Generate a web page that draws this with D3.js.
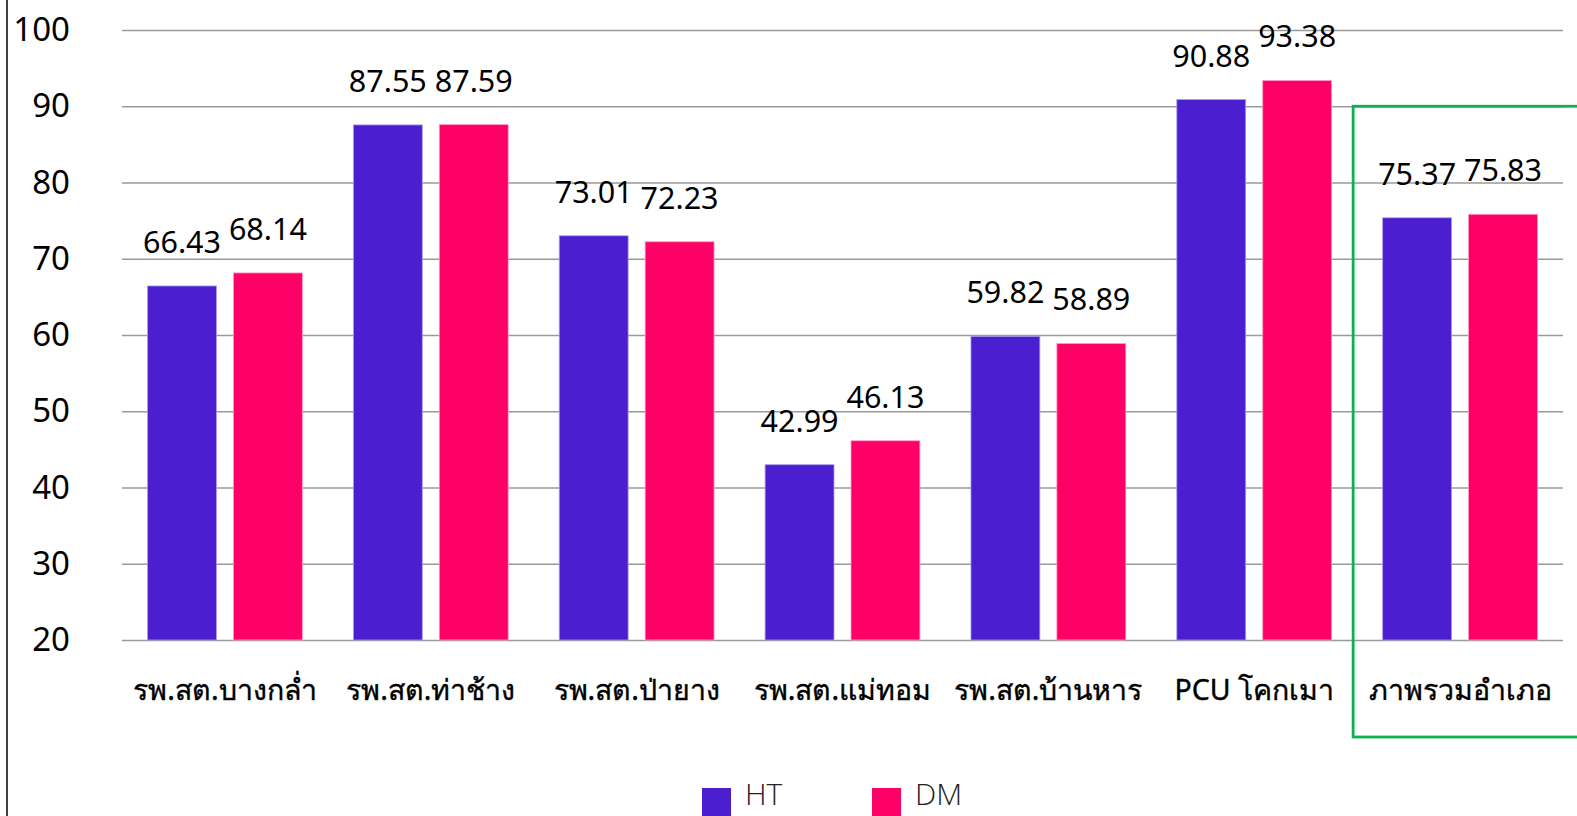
<!DOCTYPE html>
<html>
<head>
<meta charset="utf-8">
<script src="https://cdn.jsdelivr.net/npm/d3@7"></script>
<style>
  html, body { margin: 0; padding: 0; background: #fff; overflow: hidden; }
  svg { display: block; }
</style>
</head>
<body>
<svg id="chart" width="1577" height="816"></svg>
<script>
// Clinic names (x categories)
const categories = [
  "รพ.สต.บางกล่ำ",
  "รพ.สต.ท่าช้าง",
  "รพ.สต.ป่ายาง",
  "รพ.สต.แม่ทอม",
  "รพ.สต.บ้านหาร",
  "PCU โคกเมา",
  "ภาพรวมอำเภอ"
];
const seriesNames = ["HT", "DM"];
const htValues = [66.43, 87.55, 73.01, 42.99, 59.82, 90.88, 75.37];
const dmValues = [68.14, 87.59, 72.23, 46.13, 58.89, 93.38, 75.83];
const yTicks = [20, 30, 40, 50, 60, 70, 80, 90, 100];
const highlightCategory = "ภาพรวมอำเภอ";

const colors = { HT: "#4B1FD0", DM: "#FF0066" };
const strokes = { HT: "#A99BEA", DM: "#FF9CC3" };

const rows = categories.map((c, i) => ({ category: c, HT: htValues[i], DM: dmValues[i] }));

const svg = d3.select("#chart");
const W = 1577, H = 816;
const plotLeft = 122, plotRight = 1563, plotTop = 30, plotBottom = 640;

const numFont = "'Noto Sans', 'Open Sans', sans-serif";

const x = d3.scaleBand()
  .domain(categories)
  .range([plotLeft, plotRight])
  .paddingInner(0.248)
  .paddingOuter(0.124);

const xSub = d3.scaleBand()
  .domain(seriesNames)
  .range([0, x.bandwidth()])
  .paddingInner(0.198);

const y = d3.scaleLinear().domain([20, 100]).range([plotBottom, plotTop]);

// left frame line
svg.append("line")
  .attr("x1", 7).attr("x2", 7).attr("y1", 0).attr("y2", H)
  .attr("stroke", "#000").attr("stroke-width", 1.5);

// horizontal gridlines
const yAxis = d3.axisLeft(y).tickValues(yTicks).tickSize(-(plotRight - plotLeft)).tickPadding(52);
const gy = svg.append("g").attr("transform", `translate(${plotLeft},0)`).call(yAxis);
gy.select(".domain").remove();
gy.selectAll(".tick line").attr("stroke", "#9a9a9a").attr("stroke-width", 1.5);
gy.selectAll(".tick text")
  .attr("fill", "#000")
  .style("font-family", numFont)
  .style("font-size", "33px");

// bars
const groups = svg.append("g").selectAll("g")
  .data(rows).join("g")
  .attr("transform", d => `translate(${x(d.category)},0)`);

groups.selectAll("rect")
  .data(d => seriesNames.map(k => ({ key: k, value: d[k] })))
  .join("rect")
  .attr("x", d => xSub(d.key))
  .attr("y", d => y(d.value))
  .attr("width", xSub.bandwidth())
  .attr("height", d => y(20) - y(d.value))
  .attr("fill", d => colors[d.key])
  .attr("stroke", d => strokes[d.key])
  .attr("stroke-width", 0.8);

// value labels
groups.selectAll("text.val")
  .data(d => seriesNames.map(k => ({ key: k, value: d[k] })))
  .join("text")
  .attr("class", "val")
  .attr("x", d => xSub(d.key) + xSub.bandwidth() / 2)
  .attr("y", d => y(d.value) - 33)
  .attr("text-anchor", "middle")
  .attr("fill", "#000")
  .style("font-family", numFont)
  .style("font-size", "30.5px")
  .text(d => d.value.toFixed(2));

// category axis labels
const xAxis = d3.axisBottom(x).tickSize(0).tickPadding(0);
const gx = svg.append("g").attr("transform", `translate(0,${plotBottom})`).call(xAxis);
gx.select(".domain").remove();
gx.selectAll(".tick text")
  .attr("y", 60)
  .attr("dy", 0)
  .attr("fill", "#000")
  .attr("stroke", "#000")
  .attr("stroke-width", 0.4)
  .style("font-family", "'Noto Sans', 'DejaVu Sans', sans-serif")
  .style("font-size", "28.5px");

// highlight frame around the district total
const step = x.step();
const hx = x(highlightCategory) - (step - x.bandwidth()) / 2 - 4;
svg.append("rect")
  .attr("x", hx)
  .attr("y", y(90))
  .attr("width", W - hx + 20)
  .attr("height", 737 - y(90))
  .attr("fill", "none")
  .attr("stroke", "#0FB052")
  .attr("stroke-width", 2.8);

// legend
const legend = svg.append("g");
const legendX = { HT: 702, DM: 872 };
seriesNames.forEach(k => {
  legend.append("rect")
    .attr("x", legendX[k]).attr("y", 788)
    .attr("width", 29).attr("height", 29)
    .attr("fill", colors[k]);
  legend.append("text")
    .attr("x", legendX[k] + 43).attr("y", 805)
    .attr("fill", "#222")
    .style("font-family", "'Open Sans', 'Noto Sans', sans-serif")
    .style("font-weight", 300)
    .style("font-size", "30px")
    .text(k);
});
</script>
</body>
</html>
